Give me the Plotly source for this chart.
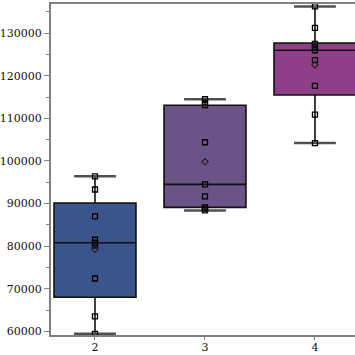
import plotly.graph_objects as go

# ---- data ----
groups = [2, 3, 4]
points_g2 = [59400, 63500, 72400, 80200, 80800, 81500, 87000, 93300, 96400]
points_g3 = [88400, 88800, 89100, 91700, 94500, 104400, 113100, 113700, 114500]
points_g4 = [104200, 110900, 117650, 123700, 126000, 126700, 127500, 131250, 136300]
q1_vals = [68000, 89100, 115500]
median_vals = [80800, 94500, 126000]
q3_vals = [90150, 113100, 127700]
lower_vals = [59400, 88400, 104200]
upper_vals = [96400, 114500, 136300]
mean_vals = [79300, 99800, 122600]
fill_colors = ["#3b558c", "#6a5487", "#8e3f87"]
y_ticks = [60000, 70000, 80000, 90000, 100000, 110000, 120000, 130000]

all_points = [points_g2, points_g3, points_g4]

fig = go.Figure()
BOX_W = 0.745
CAP_HALF = 0.19

for i, g in enumerate(groups):
    fig.add_trace(go.Box(
        x=[g], q1=[q1_vals[i]], median=[median_vals[i]], q3=[q3_vals[i]],
        lowerfence=[lower_vals[i]], upperfence=[upper_vals[i]],
        width=BOX_W, whiskerwidth=0, fillcolor=fill_colors[i],
        line=dict(color="#111111", width=1.6), boxpoints=False,
        hoverinfo="skip", showlegend=False))

# whisker caps
cap_x, cap_y = [], []
for i, g in enumerate(groups):
    for v in (lower_vals[i], upper_vals[i]):
        cap_x += [g - CAP_HALF, g + CAP_HALF, None]
        cap_y += [v, v, None]
fig.add_trace(go.Scatter(x=cap_x, y=cap_y, mode="lines",
                         line=dict(color="#505050", width=2.5),
                         showlegend=False, hoverinfo="skip"))

# data points
for i, g in enumerate(groups):
    fig.add_trace(go.Scatter(
        x=[g] * len(all_points[i]), y=all_points[i], mode="markers",
        marker=dict(symbol="square-open", size=5, color="#000000",
                    line=dict(width=1.3, color="#000000")),
        showlegend=False, hoverinfo="skip"))

# means
fig.add_trace(go.Scatter(
    x=groups, y=mean_vals, mode="markers",
    marker=dict(symbol="diamond-open", size=5, color="#222222",
                line=dict(width=1.1, color="#222222")),
    showlegend=False, hoverinfo="skip"))

fig.update_layout(
    width=355, height=355,
    margin=dict(l=51, r=0, t=4, b=20, autoexpand=False),
    paper_bgcolor="white", plot_bgcolor="white",
    font=dict(family="DejaVu Serif", size=11, color="#111111"),
)
fig.update_xaxes(
    range=[1.6, 4.364], tickvals=groups, ticktext=[str(g) for g in groups],
    showgrid=False, zeroline=False, showline=True, linecolor="#808080",
    linewidth=2, mirror=True, ticks="outside", ticklen=3, tickcolor="#808080",
    tickwidth=1, automargin=False, ticklabelstandoff=-2)
fig.update_yaxes(
    range=[59133, 136867], tickvals=y_ticks, ticktext=[str(t) for t in y_ticks],
    showgrid=False, zeroline=False, showline=True, linecolor="#808080",
    linewidth=2, ticks="outside", ticklen=5, tickcolor="#808080", tickwidth=1,
    automargin=False,
    minor=dict(ticks="outside", ticklen=3, dtick=5000, tick0=55000,
               tickcolor="#808080", showgrid=False))

fig.write_html("out.html", config={"displayModeBar": False},
               post_script="document.body.style.margin='0';document.body.style.overflow='hidden';")
